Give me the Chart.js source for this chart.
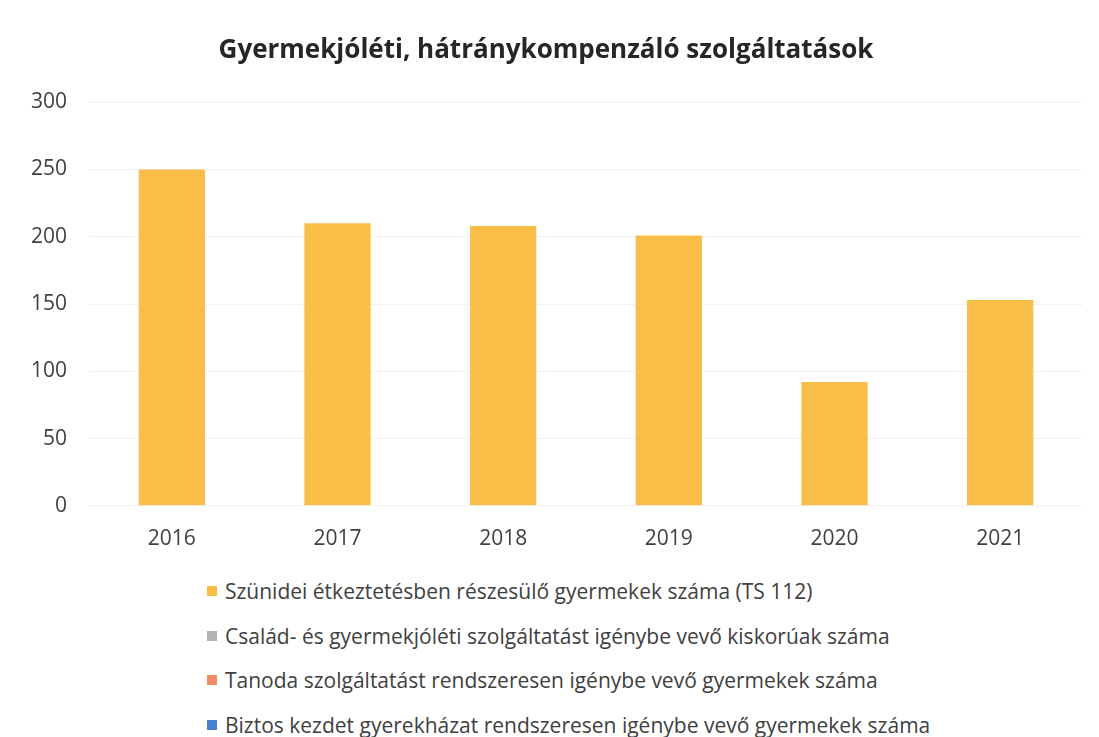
<!DOCTYPE html>
<html>
<head>
<meta charset="utf-8">
<script src="https://cdn.jsdelivr.net/npm/chart.js@4.4.0/dist/chart.umd.min.js"></script>
<style>
  html, body { margin: 0; padding: 0; background: #fff; }
  #wrap { position: relative; width: 1099px; height: 565px; }
  #legend { list-style: none; margin: 4px 0 0 0; padding: 0 0 0 207px; font-family: "Open Sans", sans-serif; font-size: 21px; color: #404040; }
  #legend li { height: 44.5px; line-height: 44.5px; display: flex; align-items: center; }
  #legend span.box { display: inline-block; width: 10px; height: 10px; margin-right: 8px; }
</style>
</head>
<body>
<div id="wrap"><canvas id="chart"></canvas></div>
<ul id="legend"></ul>
<script>
// categories and values
const years = ['2016', '2017', '2018', '2019', '2020', '2021'];
const szunideiEtkeztetes = [250, 210, 208, 201, 92, 153];
const csaladGyermekjoleti = [];
const tanoda = [];
const biztosKezdet = [];

const seriesNames = [
    'Szünidei étkeztetésben részesülő gyermekek száma (TS 112)',
    'Család- és gyermekjóléti szolgáltatást igénybe vevő kiskorúak száma',
    'Tanoda szolgáltatást rendszeresen igénybe vevő gyermekek száma',
    'Biztos kezdet gyerekházat rendszeresen igénybe vevő gyermekek száma'
];
const seriesColors = ['#F8BE48', '#B4B4B4', '#F08C64', '#4A80D0'];
const seriesData = [szunideiEtkeztetes, csaladGyermekjoleti, tanoda, biztosKezdet];

const yTicks = [0, 50, 100, 150, 200, 250, 300];

const ctx = document.getElementById('chart').getContext('2d');
Chart.defaults.font.family = '"Open Sans", sans-serif';
Chart.defaults.color = '#595959';

const chart = new Chart(ctx, {
    type: 'bar',
    data: {
        labels: years,
        datasets: seriesNames.map((name, i) => ({
            label: name,
            data: seriesData[i],
            backgroundColor: seriesColors[i],
            borderWidth: 0,
            grouped: false,
            categoryPercentage: 1,
            barPercentage: 0.4
        }))
    },
    options: {
        responsive: true,
        maintainAspectRatio: false,
        animation: false,
        layout: {
            padding: { left: 9, right: 16, top: 10, bottom: 0 }
        },
        plugins: {
            legend: { display: false },
            tooltip: { enabled: false },
            title: {
                display: true,
                text: 'Gyermekjóléti, hátránykompenzáló szolgáltatások',
                color: '#262626',
                font: { size: 26, weight: 'bold' },
                padding: { top: 25, bottom: 36 }
            }
        },
        scales: {
            x: {
                grid: { display: false },
                border: { display: false },
                ticks: { font: { size: 21 }, color: '#404040', padding: 13 }
            },
            y: {
                min: 0,
                max: 300,
                afterBuildTicks: function(axis) {
                    axis.ticks = yTicks.map(v => ({ value: v }));
                },
                grid: { color: '#f2f2f2', drawTicks: false },
                border: { display: false },
                ticks: { font: { size: 21 }, color: '#404040', padding: 22 }
            }
        }
    }
});

// legend drawn as html list, one entry per line
const legendEl = document.getElementById('legend');
chart.data.datasets.forEach(ds => {
    const li = document.createElement('li');
    const box = document.createElement('span');
    box.className = 'box';
    box.style.background = ds.backgroundColor;
    li.appendChild(box);
    li.appendChild(document.createTextNode(ds.label));
    legendEl.appendChild(li);
});
</script>
</body>
</html>
